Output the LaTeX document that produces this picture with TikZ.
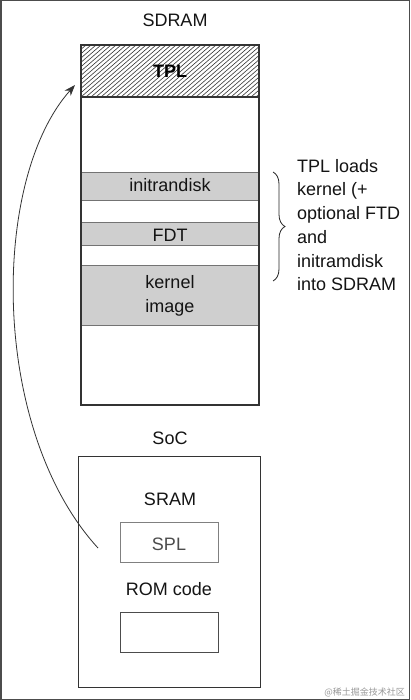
\documentclass[tikz,border=0pt]{standalone}
\usepackage{fontspec}
\setmainfont{Liberation Sans}
\newfontfamily\cjkfont{Noto Sans CJK SC}
\usetikzlibrary{arrows.meta,decorations.pathreplacing}
\begin{document}
\begin{tikzpicture}[x=1pt,y=1pt,
  boxline/.style={draw=black!80, line width=1.1pt},
  band/.style={fill=black!19, draw=black!55, line width=0.8pt},
  lbl/.style={font=\fontsize{18}{22}\selectfont, text=black!92, inner sep=0pt},
  thinbox/.style={draw=black!50, line width=0.9pt}]
\useasboundingbox (0,0) rectangle (410,-700);
\fill[white] (0,0) rectangle (410,-700);
\draw[black!70, line width=1.5pt] (0.75,-0.75) rectangle (409.25,-699.25);

% SDRAM
\node[lbl, anchor=base] (sdramt) at (175,-27) {SDRAM};
\begin{scope}
  \clip (81,-45) rectangle (259,-97);
  \foreach \i in {0,5,...,240} {
    \draw[black!80, line width=0.6pt] (81+\i-60,-97) -- (81+\i,-45);
  }
\end{scope}
\draw[band] (81,-172) rectangle (259,-200);
\draw[band] (81,-222) rectangle (259,-245);
\draw[band] (81,-265) rectangle (259,-325);
\draw[boxline] (81,-97) -- (259,-97);
\draw[boxline] (81,-45) rectangle (259,-405);
\node[lbl, anchor=base, font=\fontsize{18}{22}\selectfont\bfseries, text=black] (tpl) at (170,-78) {TPL};
\node[lbl, anchor=base] (initrd) at (170,-192) {initrandisk};
\node[lbl, anchor=base] (fdt) at (170,-242) {FDT};
\node[lbl, anchor=base] (kern) at (170,-288) {kernel};
\node[lbl, anchor=base] (kimg) at (170,-312) {image};

% brace and note
\draw[decorate, decoration={brace, amplitude=12pt}, line width=0.8pt, black!85] (273,-172) -- (273,-281);
\node[lbl, anchor=north west, align=left, font=\fontsize{18}{23.7}\selectfont] (note) at (297,-159) {TPL loads\\kernel (+\\optional FTD\\and\\initramdisk\\into SDRAM};

% SoC
\node[lbl, anchor=base] (soct) at (170,-444) {SoC};
\draw[boxline, line width=1pt] (78,-456) rectangle (260,-687);
\node[lbl, anchor=base] (sram) at (170,-505) {SRAM};
\draw[thinbox] (120,-522) rectangle (218,-562);
\node[lbl, anchor=base, text=black!70] (spl) at (169,-550) {SPL};
\node[lbl, anchor=base] (rom) at (169,-595) {ROM code};
\draw[thinbox, draw=black!70] (120,-612) rectangle (218,-652);

% arrow
\coordinate (astart) at (98,-548);
\coordinate (aend) at (75,-85);
\draw[black!80, line width=0.8pt, -{Stealth[length=11pt,width=8pt]}] (astart) .. controls (-10,-430) and (-10,-180) .. (aend);

% watermark
\node[anchor=east, inner sep=0pt, font=\cjkfont\fontsize{9}{10}\selectfont, text=black!40] (wm) at (405,-692) {@稀土掘金技术社区};
\end{tikzpicture}
\end{document}
